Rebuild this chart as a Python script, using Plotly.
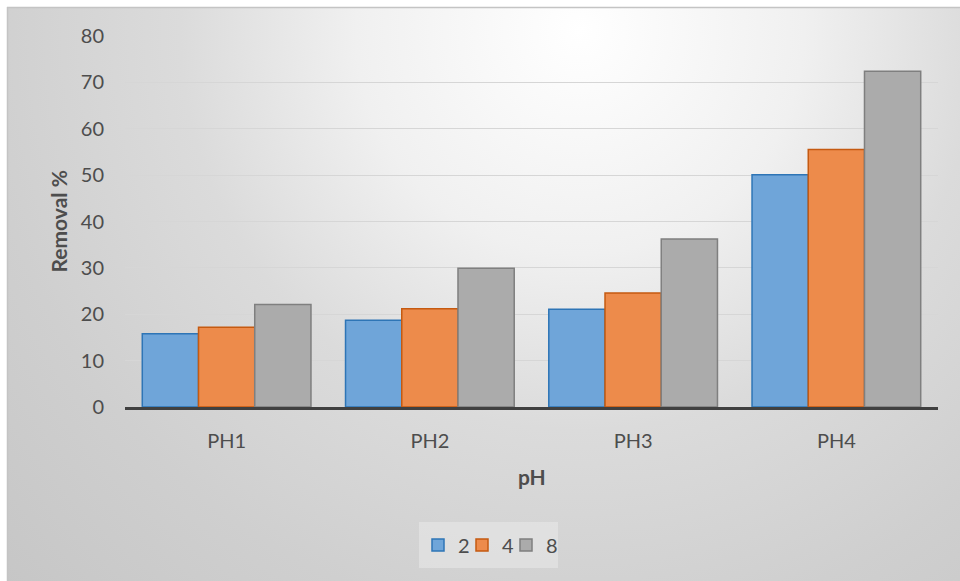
import base64
import plotly.graph_objects as go

# Removal % per pH level, grouped by series
categories = ["PH1", "PH2", "PH3", "PH4"]
series_names = ["2", "4", "8"]
removal_2 = [15.8, 18.7, 21.1, 50.1]
removal_4 = [17.2, 21.2, 24.6, 55.5]
removal_8 = [22.1, 29.9, 36.2, 72.4]
y_ticks = [0, 10, 20, 30, 40, 50, 60, 70, 80]

W, H = 960, 581
L, R, T, B = 125, 22, 36, 174
PW, PH = W - L - R, H - T - B

fills = ["#6fa5d9", "#ed8b4b", "#ababab"]
edges = ["#2e75b6", "#c55a11", "#7f7f7f"]
FONT = "Lato"
TXT = "#4d4d4d"
FS = 20
FS_TITLE = 21

# one legend per series so the entries can sit closer together
legend_ids = ["legend", "legend2", "legend3"]
legend_px = [418, 462, 506]   # left edge of each legend entry
legend_y = -(545 - 407) / PH

fig = go.Figure()
for name, vals, fc, ec, lid in zip(series_names, [removal_2, removal_4, removal_8], fills, edges, legend_ids):
    fig.add_trace(go.Bar(
        x=categories, y=vals, name=name, legend=lid,
        marker=dict(color=fc, line=dict(color=ec, width=1.5)),
    ))

# soft radial backdrop behind the whole chart
svg = f'''<svg xmlns="http://www.w3.org/2000/svg" width="{W}" height="{H}" viewBox="0 0 {W} {H}">
<defs><radialGradient id="g" gradientUnits="userSpaceOnUse" cx="580" cy="30" r="800">
<stop offset="0" stop-color="#ffffff"/>
<stop offset="0.28" stop-color="#f0f0f0"/>
<stop offset="0.5" stop-color="#dbdbdb"/>
<stop offset="0.75" stop-color="#cfcfcf"/>
<stop offset="1" stop-color="#c6c6c6"/>
</radialGradient></defs>
<rect x="0" y="0" width="{W}" height="{H}" fill="#ffffff"/>
<rect x="7" y="7" width="{W-7}" height="{H-7}" fill="url(#g)"/>
<line x1="7" y1="7.5" x2="{W}" y2="7.5" stroke="#c4c4c4" stroke-width="1.5"/>
<line x1="7.5" y1="7" x2="7.5" y2="{H}" stroke="#c4c4c4" stroke-width="1.5"/>
</svg>'''
src = "data:image/svg+xml;base64," + base64.b64encode(svg.encode()).decode()

fig.add_layout_image(dict(
    source=src, xref="paper", yref="paper",
    x=-L / PW, y=1 + T / PH, sizex=W / PW, sizey=H / PH,
    xanchor="left", yanchor="top", sizing="stretch", layer="below",
))

legend_common = dict(
    orientation="h", yanchor="middle", y=legend_y, xanchor="left",
    bgcolor="rgba(0,0,0,0)", borderwidth=0, itemwidth=30,
    font=dict(family=FONT, size=FS, color=TXT),
)

fig.update_layout(
    width=W, height=H,
    margin=dict(l=L, r=R, t=T, b=B, autoexpand=False),
    paper_bgcolor="rgba(0,0,0,0)", plot_bgcolor="rgba(0,0,0,0)",
    barmode="group", bargap=0.17, bargroupgap=0,
    font=dict(family=FONT, size=FS, color=TXT),
    showlegend=True,
    legend=dict(legend_common, x=(legend_px[0] - L) / PW),
    legend2=dict(legend_common, x=(legend_px[1] - L) / PW),
    legend3=dict(legend_common, x=(legend_px[2] - L) / PW),
    xaxis=dict(
        showline=True, linecolor="#404040", linewidth=3,
        showgrid=False, ticks="", ticklabelstandoff=14,
        tickfont=dict(family=FONT, size=FS, color=TXT),
    ),
    yaxis=dict(
        range=[0, 80], tickvals=y_ticks, showgrid=True, gridcolor="#d6d6d6", gridwidth=1.3,
        zeroline=False, showline=False, ticks="", ticklabelstandoff=20,
        tickfont=dict(family=FONT, size=FS, color=TXT),
    ),
    shapes=[
        # faint panel behind the legend entries
        dict(type="rect", xref="paper", yref="paper",
             x0=(419 - L) / PW, x1=(558 - L) / PW,
             y0=-(568 - 407) / PH, y1=-(522 - 407) / PH,
             fillcolor="rgba(236,236,236,0.5)", line=dict(width=0), layer="below"),
    ],
    annotations=[
        dict(text="<b>pH</b>", xref="paper", yref="paper", x=0.5, y=-(476 - 407) / PH,
             xanchor="center", yanchor="middle", showarrow=False,
             font=dict(family=FONT, size=FS_TITLE, color=TXT)),
        dict(text="<b>Removal %</b>", xref="paper", yref="paper", x=-(L - 58) / PW, y=0.5,
             xanchor="center", yanchor="middle", showarrow=False, textangle=-90,
             font=dict(family=FONT, size=FS_TITLE, color=TXT)),
    ],
)

fig.write_html("out.html")
